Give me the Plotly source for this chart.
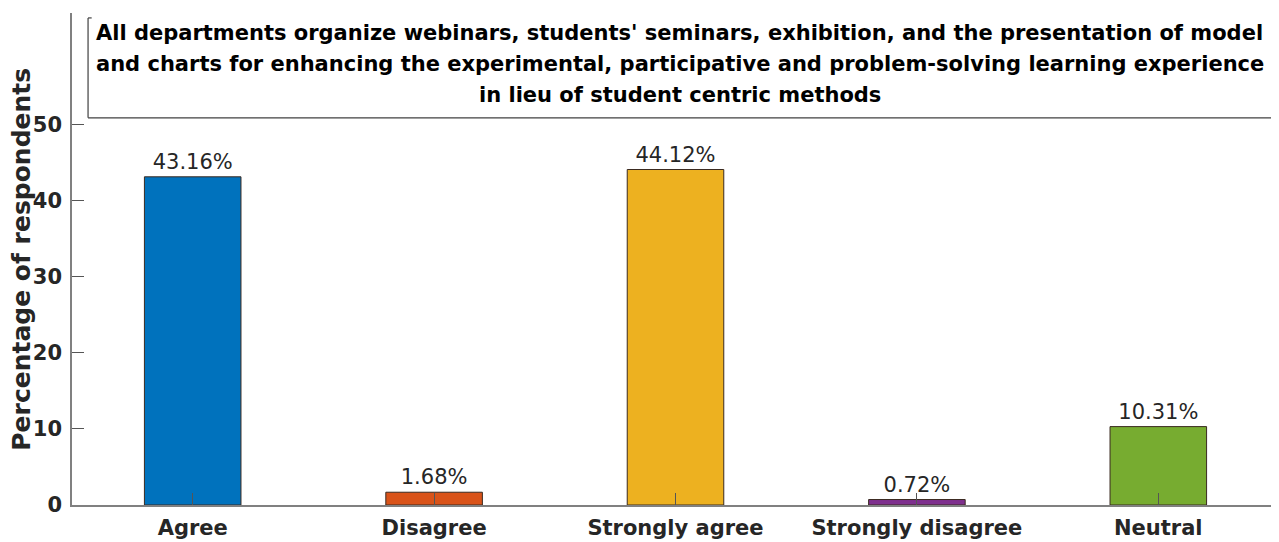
import plotly.graph_objects as go

categories = ["Agree", "Disagree", "Strongly agree", "Strongly disagree", "Neutral"]
values = [43.16, 1.68, 44.12, 0.72, 10.31]
colors = ["#0072BD", "#D95319", "#EDB120", "#7E2F8E", "#77AC30"]
title_lines = [
    "All departments organize webinars, students' seminars, exhibition, and the presentation of model",
    "and charts for enhancing the experimental, participative and problem-solving learning experience",
    "in lieu of student centric methods",
]
y_ticks = [0, 10, 20, 30, 40, 50]

FONT = "DejaVu Sans"
TXT = "#262626"

fig = go.Figure()
fig.add_trace(go.Bar(
    x=list(range(len(categories))),
    y=values,
    width=0.4,
    marker=dict(color=colors, line=dict(color="#3a2a20", width=1)),
    text=[f"{v:.2f}%" for v in values],
    textposition="outside",
    textfont=dict(family=FONT, size=21, color=TXT),
    cliponaxis=False,
    showlegend=False,
))

fig.update_layout(
    width=1271, height=534,
    margin=dict(l=64, r=0, t=5, b=37),
    paper_bgcolor="white", plot_bgcolor="white",
    font=dict(family=FONT, color=TXT),
    xaxis=dict(
        range=[-0.5, 4.5],
        tickvals=list(range(len(categories))),
        ticktext=[f"<b>{c}</b>" for c in categories],
        tickfont=dict(family=FONT, size=21, color=TXT),
        ticks="inside", ticklen=12, tickcolor="#555555", tickwidth=1,
        ticklabelstandoff=3,
        showline=True, linecolor="#808080", linewidth=1.5,
        showgrid=False, zeroline=False,
        layer="above traces", automargin=False,
    ),
    yaxis=dict(
        range=[0, 64.7],
        tickvals=y_ticks,
        ticktext=[f"<b>{t}</b>" for t in y_ticks],
        tickfont=dict(family=FONT, size=21, color=TXT),
        ticks="inside", ticklen=12, tickcolor="#555555", tickwidth=1,
        ticklabelstandoff=4,
        showline=True, linecolor="#808080", linewidth=1.5,
        showgrid=False, zeroline=False, automargin=False,
    ),
    bargap=0.6,
)

# Y-axis title
fig.add_annotation(
    xref="paper", yref="paper", x=-0.0425, y=0.50,
    text="<b>Percentage of respondents</b>", textangle=-90,
    showarrow=False, xanchor="center", yanchor="middle",
    font=dict(family=FONT, size=25, color=TXT),
)

# Title box (left, bottom, small right edge)
x0, x1, y0, y1 = 0.0133, 0.994, 0.787, 0.99
box_line = dict(color="#404040", width=1.2)
fig.add_shape(type="line", xref="paper", yref="paper", x0=x0, x1=x0, y0=y0, y1=y1, line=box_line)
fig.add_shape(type="line", xref="paper", yref="paper", x0=x0, x1=x1, y0=y0, y1=y0, line=box_line)
fig.add_shape(type="line", xref="paper", yref="paper", x0=x1, x1=x1, y0=y0, y1=y0 + 0.02, line=box_line)
fig.add_shape(type="line", xref="paper", yref="paper", x0=x0, x1=x0 + 0.003, y0=y1, y1=y1, line=box_line)

line_y = [0.959, 0.896, 0.833]
for txt, ly in zip(title_lines, line_y):
    fig.add_annotation(
        xref="paper", yref="paper", x=(x0 + x1) / 2, y=ly,
        text=f"<b>{txt}</b>",
        showarrow=False, xanchor="center", yanchor="middle",
        font=dict(family=FONT, size=21, color="black"),
    )

fig.write_html("out.html")
